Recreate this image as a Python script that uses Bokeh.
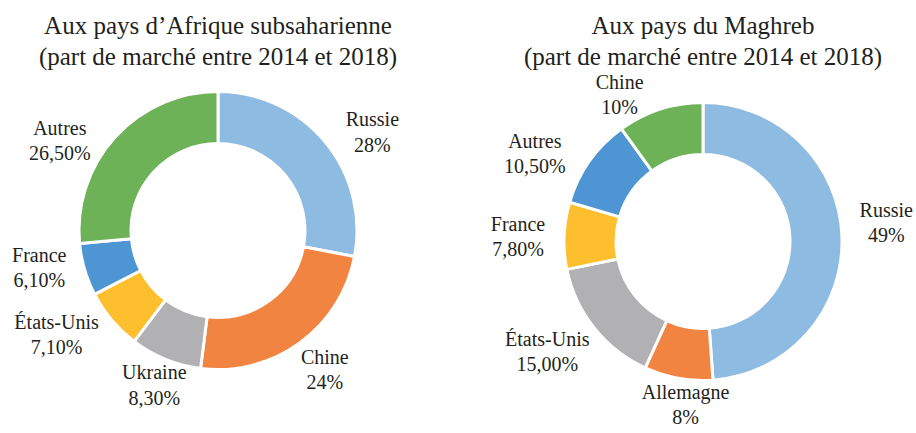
import numpy as np
from bokeh.plotting import figure
from bokeh.models import Range1d, ColumnDataSource
from bokeh.core.properties import value
from bokeh.embed import file_html
from bokeh.resources import INLINE

# ---- data ----
left_title = "Aux pays d’Afrique subsaharienne\n(part de marché entre 2014 et 2018)"
left_cats = ["Russie", "Chine", "Ukraine", "États-Unis", "France", "Autres"]
left_vals = [28, 24, 8.3, 7.1, 6.1, 26.5]
left_pct = ["28%", "24%", "8,30%", "7,10%", "6,10%", "26,50%"]

right_title = "Aux pays du Maghreb\n(part de marché entre 2014 et 2018)"
right_cats = ["Russie", "Allemagne", "États-Unis", "France", "Autres", "Chine"]
right_vals = [49, 8, 15.0, 7.8, 10.5, 10]
right_pct = ["49%", "8%", "15,00%", "7,80%", "10,50%", "10%"]

colors = ["#8ebbe1", "#f28441", "#b1b1b4", "#fdbf2d", "#4e96d3", "#6eb257"]

# label placement (layout): angular nudge from slice middle (deg) and distance (px)
left_lab_dtheta = [-7.6, 1.1, 0.0, -6.9, -4.0, 13.2]
left_lab_r = [182, 177, 169, 193, 183, 181]
right_lab_dtheta = [3.2, 4.2, -2.7, 1.5, 8.1, 12.0]
right_lab_r = [184, 166, 192, 185, 189, 167]

FONT = "Liberation Serif"
TXT = "#231f20"
W, H = 916, 433

p = figure(width=W, height=H, output_backend="svg", toolbar_location=None,
           x_range=Range1d(0, W), y_range=Range1d(0, H), min_border=0)
p.axis.visible = False
p.grid.visible = False
p.outline_line_color = None
p.background_fill_color = "white"
p.border_fill_color = "white"

R_OUT, R_IN = 139, 87
LABEL_DY = 2


def donut(cx, cy, cats, vals, pct, title, dtheta, lab_r):
    v = np.array(vals, dtype=float)
    frac = v / v.sum()
    cum = np.concatenate([[0], np.cumsum(frac)])
    start = np.pi / 2 - cum[1:] * 2 * np.pi
    end = np.pi / 2 - cum[:-1] * 2 * np.pi
    mid = (start + end) / 2 + np.radians(dtheta)
    src = ColumnDataSource(dict(
        x=[cx] * len(v), y=[cy] * len(v), start=start, end=end,
        color=colors[:len(v)],
        lx=cx + np.array(lab_r) * np.cos(mid),
        ly=cy + np.array(lab_r) * np.sin(mid) + LABEL_DY,
        txt=[f"{c}\n{t}" for c, t in zip(cats, pct)],
    ))
    p.annular_wedge(x="x", y="y", inner_radius=R_IN, outer_radius=R_OUT,
                    start_angle="start", end_angle="end", fill_color="color",
                    line_color="white", line_width=3, source=src)
    p.text(x="lx", y="ly", text="txt", source=src, text_font=value(FONT),
           text_font_size="20px", text_color=TXT, text_align="center",
           text_baseline="middle", text_line_height=1.15)
    p.text(x=[cx], y=[392.5], text=[title], text_font=value(FONT),
           text_font_size="25px", text_color=TXT, text_align="center",
           text_baseline="middle", text_line_height=1.15)


donut(217.5, 203, left_cats, left_vals, left_pct, left_title,
      left_lab_dtheta, left_lab_r)
donut(702.5, 192, right_cats, right_vals, right_pct, right_title,
      right_lab_dtheta, right_lab_r)

open("out.html", "w").write(file_html(p, INLINE))
